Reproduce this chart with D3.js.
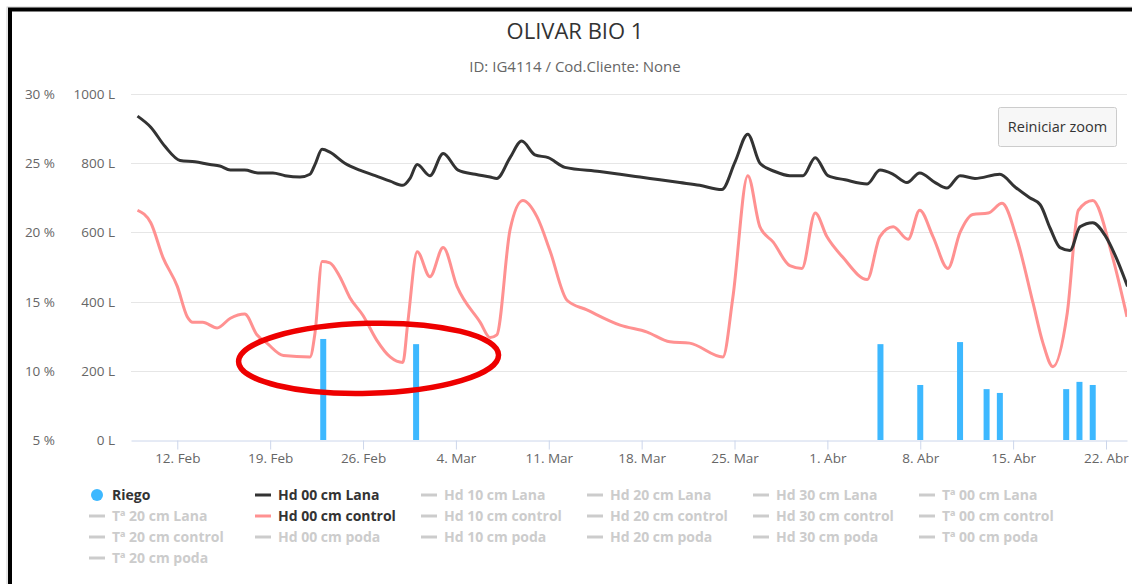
<!DOCTYPE html>
<html>
<head>
<meta charset="utf-8">
<script src="https://cdn.jsdelivr.net/npm/d3@7"></script>
<style>
  body { margin: 0; background: #fff; }
  svg { display: block; font-family: "Open Sans", sans-serif; }
</style>
</head>
<body>
<div id="chart"></div>
<script>
// Riego (L) - bars
var riegoDates = ["2024-02-23", "2024-03-01", "2024-04-05", "2024-04-08", "2024-04-11",
  "2024-04-13", "2024-04-14", "2024-04-19", "2024-04-20", "2024-04-21"]
var riegoValues = [292, 277, 277, 159, 283, 147, 136, 147, 168, 159]

// Hd 00 cm Lana (%)
var lanaDates = ["2024-02-09T00:00", "2024-02-10T00:00", "2024-02-11T02:00", "2024-02-12T05:00",
  "2024-02-13T08:00", "2024-02-14T11:00", "2024-02-15T05:00", "2024-02-16T00:00", "2024-02-17T02:00",
  "2024-02-18T02:00", "2024-02-19T05:00", "2024-02-20T03:00", "2024-02-21T06:00", "2024-02-22T00:00",
  "2024-02-22T09:00", "2024-02-22T22:00", "2024-02-23T12:00", "2024-02-24T15:00", "2024-02-25T18:00",
  "2024-02-26T22:00", "2024-02-28T01:00", "2024-02-29T00:00", "2024-02-29T13:00", "2024-03-01T02:00",
  "2024-03-02T01:00", "2024-03-03T01:00", "2024-03-04T04:00", "2024-03-05T11:00", "2024-03-06T14:00",
  "2024-03-07T02:00", "2024-03-08T02:00", "2024-03-08T23:00", "2024-03-09T23:00", "2024-03-10T23:00",
  "2024-03-12T05:00", "2024-03-14T20:00", "2024-03-16T09:00", "2024-03-17T21:00", "2024-03-19T09:00",
  "2024-03-20T21:00", "2024-03-22T09:00", "2024-03-24T01:00", "2024-03-25T01:00", "2024-03-26T00:00",
  "2024-03-26T22:00", "2024-03-28T01:00", "2024-03-29T04:00", "2024-03-30T04:00", "2024-03-31T02:00",
  "2024-04-01T01:00", "2024-04-02T08:00", "2024-04-04T00:00", "2024-04-04T23:00", "2024-04-05T23:00",
  "2024-04-07T00:00", "2024-04-07T23:00", "2024-04-09T03:00", "2024-04-10T00:00", "2024-04-11T00:00",
  "2024-04-12T03:00", "2024-04-14T00:00", "2024-04-15T03:00", "2024-04-16T06:00", "2024-04-17T01:00",
  "2024-04-17T19:00", "2024-04-18T13:00", "2024-04-19T07:00", "2024-04-20T01:00", "2024-04-21T00:00",
  "2024-04-21T22:00", "2024-04-22T16:00", "2024-04-23T15:00"]
var lanaValues = [28.4, 27.6, 26.2, 25.2, 25.1, 24.9, 24.8, 24.5, 24.5, 24.3, 24.3, 24.1, 24.0, 24.2,
  24.9, 26.0, 25.8, 25.0, 24.5, 24.1, 23.7, 23.4, 23.9, 24.9, 24.1, 25.7, 24.5, 24.2, 24.0, 23.9,
  25.4, 26.6, 25.6, 25.4, 24.7, 24.4, 24.2, 24.0, 23.8, 23.6, 23.4, 23.1, 25.1, 27.1, 25.0, 24.4,
  24.1, 24.1, 25.4, 24.1, 23.8, 23.5, 24.5, 24.2, 23.6, 24.3, 23.6, 23.2, 24.1, 23.9, 24.2, 23.3,
  22.5, 22.0, 20.3, 18.9, 18.7, 20.4, 20.7, 19.8, 18.4, 16.1]

// Hd 00 cm control (%)
var controlDates = ["2024-02-09T00:00", "2024-02-10T00:00", "2024-02-10T22:00", "2024-02-12T00:00",
  "2024-02-12T18:00", "2024-02-13T04:00", "2024-02-13T22:00", "2024-02-15T00:00", "2024-02-16T00:00",
  "2024-02-17T02:00", "2024-02-18T00:00", "2024-02-18T18:00", "2024-02-20T00:00", "2024-02-22T00:00",
  "2024-02-22T09:00", "2024-02-22T22:00", "2024-02-23T12:00", "2024-02-24T06:00", "2024-02-25T00:00",
  "2024-02-26T00:00", "2024-02-27T01:00", "2024-02-28T01:00", "2024-02-29T00:00", "2024-02-29T09:00",
  "2024-03-01T02:00", "2024-03-02T01:00", "2024-03-03T01:00", "2024-03-04T02:00", "2024-03-05T20:00",
  "2024-03-06T14:00", "2024-03-07T02:00", "2024-03-08T02:00", "2024-03-09T01:00", "2024-03-10T03:00",
  "2024-03-11T02:00", "2024-03-12T09:00", "2024-03-13T21:00", "2024-03-16T09:00", "2024-03-18T10:00",
  "2024-03-20T03:00", "2024-03-21T15:00", "2024-03-24T03:00", "2024-03-24T21:00", "2024-03-26T00:00",
  "2024-03-26T22:00", "2024-03-27T22:00", "2024-03-29T04:00", "2024-03-30T02:00", "2024-03-31T02:00",
  "2024-03-31T23:00", "2024-04-02T04:00", "2024-04-04T00:00", "2024-04-04T23:00", "2024-04-05T23:00",
  "2024-04-07T02:00", "2024-04-07T23:00", "2024-04-08T23:00", "2024-04-10T02:00", "2024-04-11T00:00",
  "2024-04-11T23:00", "2024-04-13T03:00", "2024-04-14T04:00", "2024-04-15T07:00", "2024-04-16T12:00",
  "2024-04-17T06:00", "2024-04-18T00:00", "2024-04-19T02:00", "2024-04-19T22:00", "2024-04-21T00:00",
  "2024-04-22T12:00", "2024-04-23T14:00"]
var controlValues = [21.6, 20.7, 18.2, 16.1, 13.9, 13.5, 13.5, 13.1, 13.8, 14.1, 12.6, 12.0, 11.1,
  11.0, 12.7, 17.9, 17.8, 16.8, 15.3, 14.0, 12.2, 11.0, 10.6, 13.5, 18.6, 16.8, 18.9, 16.1, 13.5,
  12.4, 12.6, 20.2, 22.3, 21.1, 18.7, 15.1, 14.4, 13.3, 12.8, 12.1, 12.0, 11.0, 15.3, 24.1, 20.4,
  19.3, 17.6, 17.4, 21.4, 19.7, 18.2, 16.6, 19.7, 20.4, 19.5, 21.6, 19.7, 17.4, 20.0, 21.3, 21.4,
  22.1, 19.5, 14.9, 12.0, 10.3, 14.2, 21.6, 22.3, 18.2, 13.9]

// axis ticks
var pctTicks = [5, 10, 15, 20, 25, 30]
var litreTicks = [0, 200, 400, 600, 800, 1000]
var tickDates = ["2024-02-12", "2024-02-19", "2024-02-26", "2024-03-04", "2024-03-11", "2024-03-18",
  "2024-03-25", "2024-04-01", "2024-04-08", "2024-04-15", "2024-04-22"]
var tickLabels = ["12. Feb", "19. Feb", "26. Feb", "4. Mar", "11. Mar", "18. Mar", "25. Mar",
  "1. Abr", "8. Abr", "15. Abr", "22. Abr"]

// legend
var legendNames = ["Riego", "Hd 00 cm Lana", "Hd 10 cm Lana", "Hd 20 cm Lana", "Hd 30 cm Lana", "Tª 00 cm Lana",
  "Tª 20 cm Lana", "Hd 00 cm control", "Hd 10 cm control", "Hd 20 cm control", "Hd 30 cm control", "Tª 00 cm control",
  "Tª 20 cm control", "Hd 00 cm poda", "Hd 10 cm poda", "Hd 20 cm poda", "Hd 30 cm poda", "Tª 00 cm poda",
  "Tª 20 cm poda"]
var legendColors = ["#3db8ff", "#333333", null, null, null, null,
  null, "#ff9191", null, null, null, null,
  null, null, null, null, null, null, null]

var width = 1132, height = 584
var plot = { left: 131, right: 1127, top: 94, bottom: 440 }
// local time parse, date-only strings taken as local midnight
var parse = function(s) { return new Date(s.length === 10 ? s + "T00:00" : s) }

var svg = d3.select("#chart")
  .append("svg")
    .attr("width", width)
    .attr("height", height)

var x = d3.scaleTime()
  .domain([new Date(2024, 1, 8, 12, 15), new Date(2024, 3, 23, 14, 0)])
  .range([plot.left, plot.right])
var yPct = d3.scaleLinear().domain([5, 30]).range([plot.bottom, plot.top])
var yL = d3.scaleLinear().domain([0, 1000]).range([plot.bottom, plot.top])

// titles
svg.append("text")
  .attr("x", 575).attr("y", 39)
  .attr("text-anchor", "middle")
  .attr("font-size", 22)
  .attr("fill", "#333")
  .text("OLIVAR BIO 1")

svg.append("text")
  .attr("x", 575).attr("y", 72)
  .attr("text-anchor", "middle")
  .attr("font-size", 15)
  .attr("fill", "#666")
  .text("ID: IG4114 / Cod.Cliente: None")

// grid
svg.append("g")
  .selectAll("line")
  .data(litreTicks.filter(function(d) { return d > 0 }))
  .join("line")
    .attr("x1", plot.left).attr("x2", plot.right)
    .attr("y1", function(d) { return Math.round(yL(d)) + 0.5 })
    .attr("y2", function(d) { return Math.round(yL(d)) + 0.5 })
    .attr("stroke", "#e6e6e6")

// y labels
svg.append("g")
  .selectAll("text")
  .data(pctTicks)
  .join("text")
    .attr("x", 55).attr("y", function(d) { return yPct(d) + 5 })
    .attr("text-anchor", "end")
    .attr("font-size", 13.5)
    .attr("fill", "#666")
    .text(function(d) { return d + " %" })

svg.append("g")
  .selectAll("text")
  .data(litreTicks)
  .join("text")
    .attr("x", 115).attr("y", function(d) { return yL(d) + 5 })
    .attr("text-anchor", "end")
    .attr("font-size", 13.5)
    .attr("fill", "#666")
    .text(function(d) { return d + " L" })

// x axis
var xAxis = d3.axisBottom(x)
  .tickValues(tickDates.map(parse))
  .tickFormat(function(d, i) { return tickLabels[i] })
  .tickSize(9)
  .tickSizeOuter(0)

var gx = svg.append("g")
  .attr("transform", "translate(0," + (plot.bottom + 0.5) + ")")
  .call(xAxis)
gx.select(".domain").attr("stroke", "#ccd6eb")
gx.selectAll(".tick line").attr("stroke", "#ccd6eb")
gx.selectAll(".tick text")
  .attr("fill", "#666")
  .attr("font-size", 13.5)
  .attr("font-family", "Open Sans, sans-serif")
  .attr("y", 10)
  .attr("dy", "0.9em")

svg.append("clipPath").attr("id", "clip")
  .append("rect")
    .attr("x", plot.left).attr("y", 0)
    .attr("width", plot.right - plot.left).attr("height", plot.bottom)

// bars
svg.append("g")
  .selectAll("rect")
  .data(riegoDates.map(function(d, i) { return { date: parse(d), value: riegoValues[i] } }))
  .join("rect")
    .attr("x", function(d) { return x(d.date) - 3 })
    .attr("y", function(d) { return yL(d.value) })
    .attr("width", 6)
    .attr("height", function(d) { return yL(0) - yL(d.value) })
    .attr("fill", "#3db8ff")

// lines
var line = d3.line()
  .x(function(d) { return x(d.date) })
  .y(function(d) { return yPct(d.value) })
  .curve(d3.curveMonotoneX)

var lines = svg.append("g").attr("clip-path", "url(#clip)")

lines.append("path")
  .datum(controlDates.map(function(d, i) { return { date: parse(d), value: controlValues[i] } }))
  .attr("d", line)
  .attr("fill", "none")
  .attr("stroke", "#ff9191")
  .attr("stroke-width", 3)
  .attr("stroke-linejoin", "round")

lines.append("path")
  .datum(lanaDates.map(function(d, i) { return { date: parse(d), value: lanaValues[i] } }))
  .attr("d", line)
  .attr("fill", "none")
  .attr("stroke", "#333333")
  .attr("stroke-width", 3)
  .attr("stroke-linejoin", "round")

// hand drawn annotation round the two early irrigations
var ex = x(parse("2024-02-26T10:00")), ey = yL(236)
svg.append("ellipse")
  .attr("cx", ex)
  .attr("cy", ey)
  .attr("rx", 130)
  .attr("ry", 35)
  .attr("transform", "rotate(-1.5," + ex + "," + ey + ")")
  .attr("fill", "none")
  .attr("stroke", "#ee0000")
  .attr("stroke-width", 5.5)

// reset zoom button
var btn = svg.append("g").attr("transform", "translate(998.5,107.5)")
btn.append("rect")
  .attr("width", 118).attr("height", 39)
  .attr("rx", 2)
  .attr("fill", "#f7f7f7")
  .attr("stroke", "#cccccc")
btn.append("text")
  .attr("x", 59).attr("y", 24)
  .attr("text-anchor", "middle")
  .attr("font-size", 14.5)
  .attr("fill", "#333")
  .text("Reiniciar zoom")

// legend
var legend = svg.append("g")
  .selectAll("g")
  .data(legendNames)
  .join("g")
    .attr("transform", function(d, i) {
      return "translate(" + (89 + (i % 6) * 166) + "," + (495 + Math.floor(i / 6) * 21) + ")"
    })

legend.each(function(d, i) {
  var g = d3.select(this)
  var c = legendColors[i] || "#cccccc"
  if (i === 0) {
    g.append("circle").attr("cx", 8).attr("cy", 0).attr("r", 6).attr("fill", c)
  } else {
    g.append("line").attr("x1", 0).attr("x2", 16).attr("y1", 0).attr("y2", 0)
      .attr("stroke", c).attr("stroke-width", 3)
  }
  g.append("text")
    .attr("x", 23).attr("y", 5)
    .attr("font-size", 14)
    .attr("font-weight", "bold")
    .attr("fill", legendColors[i] ? "#333" : "#cccccc")
    .text(d)
})

// page frame
svg.append("rect")
  .attr("x", 7).attr("y", 7)
  .attr("width", 1140).attr("height", 600)
  .attr("fill", "none")
  .attr("stroke", "#d0d0d0")
  .attr("stroke-width", 1)
svg.append("rect")
  .attr("x", 10).attr("y", 9.5)
  .attr("width", 1140).attr("height", 600)
  .attr("fill", "none")
  .attr("stroke", "#000")
  .attr("stroke-width", 4)
</script>
</body>
</html>
